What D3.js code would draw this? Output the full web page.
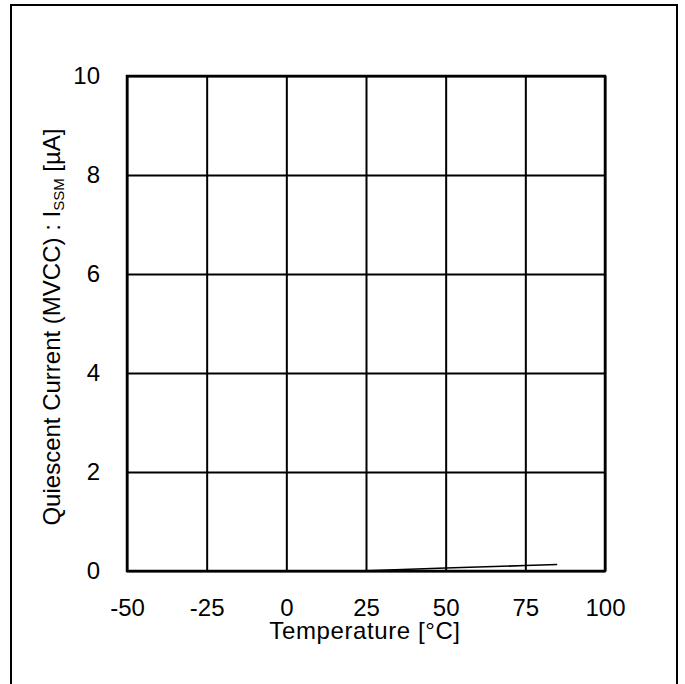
<!DOCTYPE html>
<html>
<head>
<meta charset="utf-8">
<script src="https://cdn.jsdelivr.net/npm/d3@7"></script>
<style>
  html, body { margin: 0; padding: 0; background: #fff; }
  svg { display: block; }
  text { font-family: "Liberation Sans", Arial, sans-serif; fill: #000; }
</style>
</head>
<body>
<svg id="chart" width="685" height="684"></svg>
<script>
// Quiescent current vs. temperature
const temperatures = [-40, -25, 0, 25, 50, 75, 85];
const currents = [0, 0, 0, 0.005, 0.06, 0.11, 0.13];
const xTicks = [-50, -25, 0, 25, 50, 75, 100];
const yTicks = [0, 2, 4, 6, 8, 10];

const svg = d3.select("#chart");
const plotLeft = 127, plotRight = 605, plotTop = 76, plotBottom = 571;
const fontSize = 24;
const fmt = d => String(d);   // plain hyphen for negatives

const x = d3.scaleLinear().domain([-50, 100]).range([plotLeft, plotRight]);
const y = d3.scaleLinear().domain([0, 10]).range([plotBottom, plotTop]);

// outer frame
svg.append("rect")
  .attr("x", 11).attr("y", 5)
  .attr("width", 666).attr("height", 700)
  .attr("fill", "none").attr("stroke", "#000").attr("stroke-width", 2);

// vertical grid + x labels
const xAxis = svg.append("g")
  .attr("transform", `translate(0,${plotBottom})`)
  .call(d3.axisBottom(x).tickValues(xTicks).tickFormat(fmt)
    .tickSizeInner(-(plotBottom - plotTop)).tickSizeOuter(0));
xAxis.select(".domain").remove();
xAxis.selectAll("line").attr("stroke", "#000").attr("stroke-width", 2);
xAxis.selectAll("text").attr("font-size", fontSize).attr("dy", "0").attr("y", 45)
  .attr("font-family", "Liberation Sans, Arial, sans-serif");

// horizontal grid + y labels
const yAxis = svg.append("g")
  .attr("transform", `translate(${plotLeft},0)`)
  .call(d3.axisLeft(y).tickValues(yTicks).tickFormat(fmt)
    .tickSizeInner(-(plotRight - plotLeft)).tickSizeOuter(0));
yAxis.select(".domain").remove();
yAxis.selectAll("line").attr("stroke", "#000").attr("stroke-width", 2);
yAxis.selectAll("text").attr("font-size", fontSize).attr("x", -27)
  .attr("font-family", "Liberation Sans, Arial, sans-serif");

// plot border
svg.append("rect")
  .attr("x", plotLeft).attr("y", plotTop)
  .attr("width", plotRight - plotLeft).attr("height", plotBottom - plotTop)
  .attr("fill", "none").attr("stroke", "#000").attr("stroke-width", 2.5);

// data line
const line = d3.line().x((d, i) => x(temperatures[i])).y(d => y(d));
svg.append("path")
  .datum(currents)
  .attr("d", line)
  .attr("fill", "none").attr("stroke", "#000").attr("stroke-width", 1.6);

// axis titles
svg.append("text")
  .attr("x", 365).attr("y", 639)
  .attr("text-anchor", "middle").attr("font-size", fontSize)
  .attr("letter-spacing", 0.6)
  .text("Temperature [°C]");

const yt = svg.append("text")
  .attr("transform", `translate(60,327) rotate(-90)`)
  .attr("text-anchor", "middle").attr("font-size", fontSize);
yt.append("tspan").text("Quiescent Current (MVCC) : I");
yt.append("tspan").attr("font-size", 15).attr("dy", 4).text("SSM");
yt.append("tspan").attr("dy", -4).text(" [µA]");
</script>
</body>
</html>
